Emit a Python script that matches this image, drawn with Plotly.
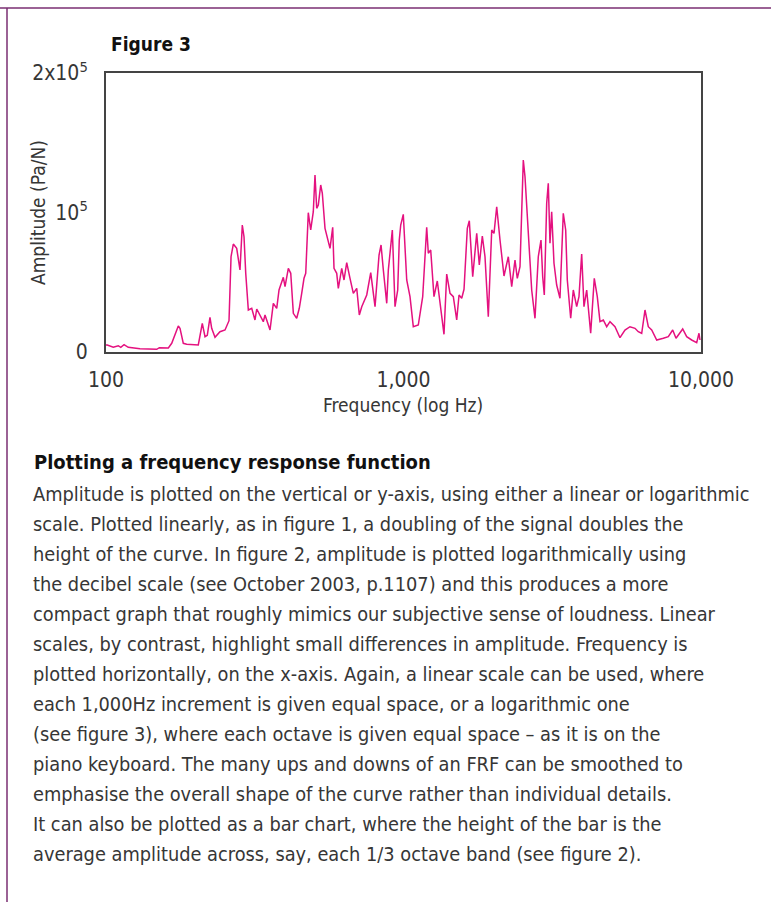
import plotly.graph_objects as go

# ---- data ----
freq_hz = [100, 101.0, 105.8, 110.0, 112.1, 115.0, 118.8, 130.1, 148.1, 151.1, 162.0, 166.3, 175.0, 177.3,
           181.9, 186.7, 204.3, 207.0, 210.7, 215.2, 219.0, 223.6, 226.6, 232.5, 241.6, 251.2, 259.1,
           263.2, 267.9, 275.0, 282.1, 287.2, 291.0, 294.9, 300.9, 308.9, 316.8, 321.1, 329.4, 337.9,
           342.4, 355.9, 365.1, 374.8, 381.6, 394.5, 399.7, 410.1, 417.8, 426.3, 437.5, 446.4, 454.8,
           463.0, 469.2, 478.6, 487.6, 497.5, 504.1, 510.8, 517.2, 526.9, 533.5, 544.7, 566.2, 578.1,
           584.0, 596.4, 603.8, 619.9, 631.0, 644.4, 661.0, 678.2, 696.3, 710.4, 723.8, 752.3, 776.0,
           802.3, 827.5, 840.5, 855.5, 878.3, 889.2, 917.2, 936.4, 956.2, 967.9,
           978.7, 998.4, 1025.2, 1051.6, 1078.8, 1121.3, 1160.2, 1196.7, 1211.7, 1234.3, 1266.2, 1299.0,
           1326.5, 1368.2, 1397.2, 1433.4, 1470.5, 1509.6, 1536.9, 1569.1, 1597.5, 1638.8, 1664.3,
           1708.6, 1762.5, 1798.2, 1840.5, 1879.1, 1927.7, 1979.4, 2014.8, 2057.4, 2110.6, 2176.7,
           2250.6, 2310.5, 2370.3, 2412.7, 2463.8, 2527.5, 2560.9, 2627.2, 2697.1, 2766.9, 2838.5,
           2898.6, 2936.9, 2973.6, 3029.0, 3066.9, 3107.4, 3148.4, 3205.2, 3272.5, 3357.3, 3444.2,
           3509.0, 3553.0, 3647.5, 3721.9, 3820.9, 3889.2, 3971.6, 4042.6, 4128.2, 4257.6, 4377.9,
           4480.9, 4575.8, 4694.3, 4819.2, 4943.9, 5139.0, 5341.7, 5552.4, 5771.4, 5999.8, 6154.4,
           6319.4, 6483.0, 6651.0, 6828.0, 7097.9, 7469.0, 7764.5, 8033.3, 8241.2, 8679.1, 8951.4,
           9305.8, 9671.6, 9846.0, 9922.7]

amplitude_pa_per_n = [5000, 5018, 3369, 4516, 3369, 5233, 3369, 2365, 1935, 3082, 2867, 6236, 18637, 16988,
                      6236, 5519, 5018, 12186, 20572, 10967, 11971, 24873, 16988, 10537, 14551, 15770, 22436,
                      68311, 77414, 74332, 58778, 91034, 82647, 56412, 30106, 31324, 22938, 30822, 26522, 21719,
                      26522, 15770, 34908, 31324, 44442, 53545, 46807, 59996, 56412, 27740, 24156, 31324, 42076,
                      52828, 56412, 99850, 87450, 100567, 126874, 103004, 105370, 119706, 113756, 88668, 74332, 89385,
                      59996, 56412, 45660, 59996, 51610, 64010, 52828, 42076, 45660, 26522, 32471, 40858, 56842,
                      32471, 69530, 76698, 58778, 34908, 58778, 87450, 32471, 44442, 80282,
                      91034, 98703, 51610, 39639, 18135, 19354, 39639, 89385, 70748, 73114, 39639, 50893,
                      36055, 12687, 55910, 42076, 39639, 22938, 40858, 38492, 44943, 88668, 94116,
                      53975, 85084, 62362, 83149, 68311, 25303, 87450, 85084, 104151, 80282, 54477,
                      68311, 46807, 65946, 52828, 61143, 137626, 125655, 85084, 44442, 24156, 68311,
                      80282, 53975, 40858, 106588, 120924, 77916, 100567, 63580, 48026, 38492, 99420,
                      87450, 51610, 24156, 44442, 32471, 39639, 70246, 32471, 44442, 13404, 52828,
                      39639, 21719, 22938, 18135, 21719, 18135, 10250, 15770, 18135, 16988, 14551,
                      13404, 30106, 18135, 15770, 8602, 9820, 10967, 15770, 9820, 16486, 10967,
                      8602, 6666, 13404, 8602]

x_tick_values = [100, 1000, 10000]
x_tick_labels = ["100", "1,000", "10,000"]
y_tick_values = [0, 100000, 200000]
y_tick_labels = ["0", "10<sup>5</sup>", "2x10<sup>5</sup>"]

figure_label = "Figure 3"
x_title = "Frequency (log Hz)"
y_title = "Amplitude (Pa/N)"
heading = "Plotting a frequency response function"
body_lines = [
    "Amplitude is plotted on the vertical or y-axis, using either a linear or logarithmic",
    "scale. Plotted linearly, as in figure 1, a doubling of the signal doubles the",
    "height of the curve. In figure 2, amplitude is plotted logarithmically using",
    "the decibel scale (see October 2003, p.1107) and this produces a more",
    "compact graph that roughly mimics our subjective sense of loudness. Linear",
    "scales, by contrast, highlight small differences in amplitude. Frequency is",
    "plotted horizontally, on the x-axis. Again, a linear scale can be used, where",
    "each 1,000Hz increment is given equal space, or a logarithmic one",
    "(see figure 3), where each octave is given equal space \u2013 as it is on the",
    "piano keyboard. The many ups and downs of an FRF can be smoothed to",
    "emphasise the overall shape of the curve rather than individual details.",
    "It can also be plotted as a bar chart, where the height of the bar is the",
    "average amplitude across, say, each 1/3 octave band (see figure 2).",
]

# ---- layout geometry (pixels) ----
W, H = 771, 902
L, R, T, B = 106, 701, 73, 352
FONT = "Liberation Sans Narrow, DejaVu Sans Condensed, Liberation Sans, Arial, sans-serif"
TXT = "#363636"
PURPLE = "#7a2e72"


def px(x):
    return (x - L) / (R - L)


def py(y):
    return (B - y) / (B - T)


fig = go.Figure()
fig.add_trace(go.Scatter(x=freq_hz, y=amplitude_pa_per_n, mode="lines",
                         line=dict(color="#e4117f", width=1.5), showlegend=False,
                         hoverinfo="skip"))

fig.update_layout(
    width=W, height=H,
    margin=dict(l=L, r=W - R, t=T, b=H - B, pad=0),
    paper_bgcolor="white", plot_bgcolor="white",
    font=dict(family=FONT, color=TXT, size=18),
    showlegend=False,
)
fig.update_xaxes(type="log", range=[2, 4], tickvals=x_tick_values, ticktext=x_tick_labels,
                 showgrid=False, zeroline=False, showline=True, mirror=True,
                 linecolor="#444", linewidth=2, ticks="", ticklabelstandoff=8,
                 tickfont=dict(size=21, family=FONT, color=TXT))
fig.update_yaxes(range=[0, 200000], tickvals=y_tick_values, ticktext=y_tick_labels,
                 showgrid=False, zeroline=False, showline=True, mirror=True,
                 linecolor="#444", linewidth=2, ticks="", ticklabelstandoff=12,
                 tickfont=dict(size=21, family=FONT, color=TXT))

ann = []
ann.append(dict(text="<b>" + figure_label + "</b>", x=px(109), y=py(44), xref="paper", yref="paper",
                xanchor="left", yanchor="middle", showarrow=False,
                font=dict(size=19, family=FONT, color="#111")))
ann.append(dict(text=x_title, x=px(403), y=py(405), xref="paper", yref="paper",
                xanchor="center", yanchor="middle", showarrow=False,
                font=dict(size=19, family=FONT, color=TXT)))
ann.append(dict(text=y_title, x=px(38), y=py(213), xref="paper", yref="paper", textangle=-90,
                xanchor="center", yanchor="middle", showarrow=False,
                font=dict(size=19, family=FONT, color=TXT)))
ann.append(dict(text="<b>" + heading + "</b>", x=px(32), y=py(462), xref="paper", yref="paper",
                xanchor="left", yanchor="middle", showarrow=False,
                font=dict(size=20, family=FONT, color="#111")))
for i, line in enumerate(body_lines):
    ann.append(dict(text=line, x=px(31), y=py(494 + 30 * i), xref="paper", yref="paper",
                    xanchor="left", yanchor="middle", showarrow=False,
                    font=dict(size=19.8, family=FONT, color=TXT)))
fig.update_layout(annotations=ann)

# decorative page border (top and left rules)
fig.add_shape(type="line", xref="paper", yref="paper", x0=px(0), x1=px(W), y0=py(8), y1=py(8),
              line=dict(color=PURPLE, width=1.5))
fig.add_shape(type="line", xref="paper", yref="paper", x0=px(7), x1=px(7), y0=py(8), y1=py(H),
              line=dict(color=PURPLE, width=1.5))

# remove the default 8px page margin so the figure sits at the window origin
fig.write_html("out.html", config={"displayModeBar": False, "staticPlot": True},
               post_script="document.body.style.margin='0';")
